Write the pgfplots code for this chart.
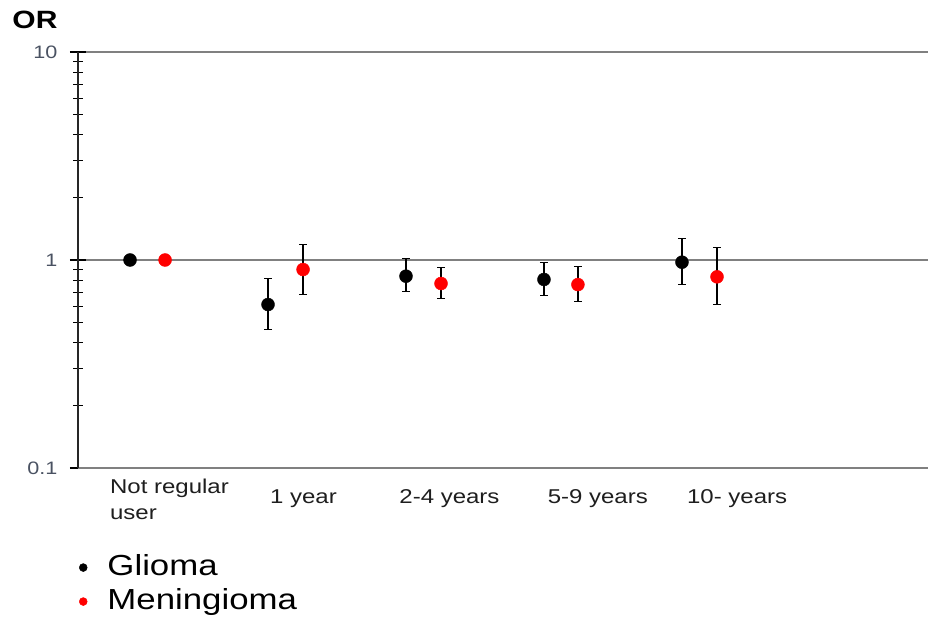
\documentclass[border=0pt]{standalone}
\usepackage{pgfplots}
\pgfplotsset{compat=1.18}
\usepackage{fontspec}
\setmainfont{Liberation Sans}[FakeStretch=1.2]
\definecolor{ylab}{HTML}{4A5262}
\definecolor{xlab}{HTML}{1E1E1E}
\begin{document}
\begin{tikzpicture}
\path[use as bounding box] (0,0) rectangle (930pt,618pt);
\begin{axis}[
  at={(78pt,150pt)}, anchor=south west,
  scale only axis, width=850pt, height=416pt,
  xmin=-0.377, xmax=5.783,
  ymode=log, ymin=0.1, ymax=10,
  axis x line=bottom, axis y line=left,
  x axis line style={-, draw=gray, line width=1.5pt},
  y axis line style={-, draw=black!85, line width=1.4pt},
  ytick={0.1,1,10}, yticklabels={0.1,1,10},
  minor ytick={0.2,0.3,0.4,0.5,0.6,0.7,0.8,0.9,2,3,4,5,6,7,8,9},
  ytick align=center,
  major tick length=16pt, minor tick length=9pt,
  y tick style={black, line width=1.2pt},
  ymajorgrids, grid style={gray, line width=1.5pt},
  yticklabel style={font=\fontsize{18}{22}\selectfont, text=ylab, xshift=-9pt},
  xtick={0.286,1.257,2.315,3.39,4.40},
  xticklabels={{Not regular\\user},{1 year},{2-4 years},{5-9 years},{10- years}},
  x tick style={draw=none},
  xticklabel style={align=left, anchor=center, yshift=-23pt, font=\fontsize{20}{26}\selectfont, text=xlab},
  /pgf/number format/assume math mode=true,
  title={OR},
  title style={at={(-0.0506,1.062)}, anchor=center, font=\bfseries\fontsize{25}{30}\selectfont},
  legend style={at={(0.001,-0.204)}, anchor=north west, draw=none, fill=none, inner sep=0pt,
    font=\fontsize{29}{35}\selectfont, row sep=5pt,
    nodes={inner sep=1pt, text height=21pt, text depth=6pt}, cells={anchor=west}},
  legend image code/.code={\fill[#1] (0pt,0pt) circle (4pt); \path (-4pt,0pt) (23pt,0pt);},
  clip=false,
]
\addlegendimage{black}
\addlegendentry{Glioma}
\addlegendimage{red}
\addlegendentry{Meningioma}

% reference category (no CI)
\addplot[forget plot, only marks, mark=*, mark size=6.5pt, black] coordinates {(0,1)};
\addplot[forget plot, only marks, mark=*, mark size=6.5pt, red] coordinates {(0.254,1)};

% Glioma
\addplot[forget plot, only marks, mark=*, mark size=6.5pt, black,
  error bars/.cd, y dir=both, y explicit,
  error bar style={black, line width=1.3pt},
  error mark options={rotate=90, mark size=4pt, line width=1.3pt, black}]
  table[x=x, y=y, y error plus=ep, y error minus=em] {
x y ep em
1 0.611 0.201 0.148
2 0.836 0.177 0.128
3 0.806 0.170 0.133
4 0.976 0.293 0.216
};

% Meningioma
\addplot[forget plot, only marks, mark=*, mark size=6.5pt, red,
  error bars/.cd, y dir=both, y explicit,
  error bar style={black, line width=1.3pt},
  error mark options={rotate=90, mark size=4pt, line width=1.3pt, black}]
  table[x=x, y=y, y error plus=ep, y error minus=em] {
x y ep em
1.254 0.900 0.287 0.218
2.254 0.771 0.152 0.116
3.246 0.762 0.169 0.128
4.254 0.830 0.315 0.219
};
\end{axis}
\end{tikzpicture}
\end{document}
